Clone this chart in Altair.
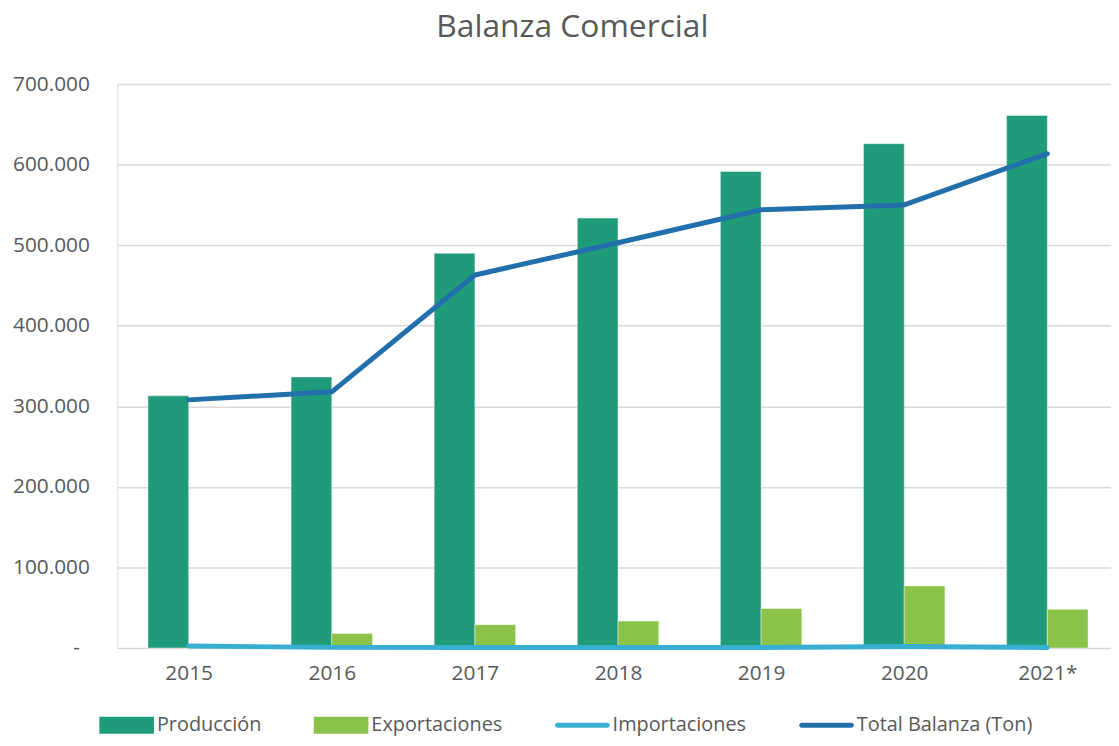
import json
import altair as alt
import pandas as pd

years = ["2015", "2016", "2017", "2018", "2019", "2020", "2021*"]
produccion = [313000, 336500, 490000, 533700, 591500, 626000, 661000]
exportaciones = [5000, 18000, 29000, 33500, 49000, 77000, 48000]
importaciones = [2500, 800, 500, 500, 700, 2000, 500]
total_balanza = [308000, 318000, 463000, 503000, 544000, 550000, 613600]

series = ["Producción", "Exportaciones", "Importaciones", "Total Balanza  (Ton)"]
colors = ["#1f9b7a", "#8bc24a", "#38afd1", "#2270ab"]
y_ticks = [0, 100000, 200000, 300000, 400000, 500000, 600000, 700000]

bar_shape = "M-1,-0.31H1V0.31H-1Z"
line_shape = "M-0.91,-0.09H0.91A0.09,0.09 0 0 1 0.91,0.09H-0.91A0.09,0.09 0 0 1 -0.91,-0.09Z"
shapes = [bar_shape, bar_shape, line_shape, line_shape]

idx = list(range(len(years)))


def frame(name, values):
    return pd.DataFrame({"i": idx, "year": years, "serie": name, "value": values})


prod_df = frame(series[0], produccion)
exp_df = frame(series[1], exportaciones)
lines_df = pd.concat([frame(series[2], importaciones), frame(series[3], total_balanza)])
legend_df = pd.DataFrame({"serie": series})

GREY = "#595959"
FONT = "Open Sans"

x_enc = alt.X(
    "i:Q",
    scale=alt.Scale(domain=[-0.4995, 6.445], nice=False, zero=False, padding=0),
    axis=alt.Axis(title=None, values=idx, labelExpr=json.dumps(years) + "[datum.value]",
                  labelAngle=0, labelFontSize=21, labelColor=GREY, labelFont=FONT,
                  labelPadding=15, domain=False, ticks=False, grid=False, labelFlush=False),
)
y_enc = alt.Y(
    "value:Q",
    scale=alt.Scale(domain=[0, 700000], nice=False, padding=0),
    axis=alt.Axis(title=None, values=y_ticks,
                  labelExpr="datum.value == 0 ? '-' : format(datum.value / 1000, 'd') + '.000'",
                  grid=True, gridColor="#d9d9d9", gridWidth=1.5, domain=False, ticks=False,
                  labelPadding={"condition": {"test": "datum.value == 0", "value": 38}, "value": 28},
                  labelFontSize=21, labelColor=GREY, labelFont=FONT),
)
color_scale = alt.Scale(domain=series, range=colors)

leg = alt.Legend(
    title=None, orient="none", direction="horizontal", columns=4,
    legendX=-18, legendY=618, padding=0,
    symbolSize=3025, symbolStrokeWidth=0, symbolOpacity=1,
    labelFont=FONT, labelFontSize=20, labelColor=GREY, labelOffset=3, labelLimit=0,
    columnPadding=52,
)
legend_layer = alt.Chart(legend_df).mark_point(filled=True, opacity=0).encode(
    color=alt.Color("serie:N", scale=color_scale, legend=leg),
    shape=alt.Shape("serie:N", scale=alt.Scale(domain=series, range=shapes), legend=leg),
)

prod_bars = alt.Chart(prod_df).mark_bar(width=41, xOffset=-20.5, stroke="#e6f2ec", strokeWidth=0.5).encode(
    x=x_enc, y=y_enc,
    color=alt.Color("serie:N", scale=color_scale, legend=None),
)
exp_bars = alt.Chart(exp_df).mark_bar(width=41, xOffset=20.5, stroke="#eef6e6", strokeWidth=0.5).encode(
    x=x_enc, y=y_enc,
    color=alt.Color("serie:N", scale=color_scale, legend=None),
)

lines = alt.Chart(lines_df).mark_line(strokeWidth=5, strokeCap="round", strokeJoin="round").encode(
    x=x_enc,
    y=y_enc,
    color=alt.Color("serie:N", scale=color_scale, legend=None),
    order=alt.Order("i:Q"),
)

chart = alt.layer(legend_layer, prod_bars, exp_bars, lines).properties(
    width=1001,
    height=568,
    autosize=alt.AutoSizeParams(type="none"),
    padding={"left": 110, "top": 74, "right": 0, "bottom": 88},
    title=alt.TitleParams(
        "Balanza Comercial", fontSize=32, font=FONT, color=GREY, fontWeight="normal",
        anchor="middle", frame="group", dx=-42, offset=4, baseline="alphabetic",
    ),
).configure_view(stroke=None).configure(font=FONT)

chart.save("out.html", embed_options={"renderer": "svg", "actions": False})
